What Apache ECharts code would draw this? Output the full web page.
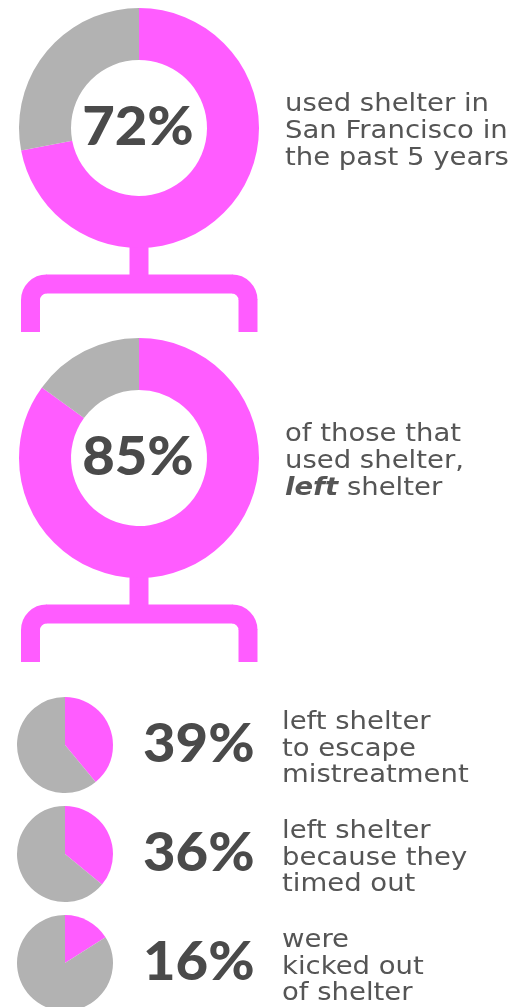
<!DOCTYPE html>
<html>
	<head>
		<meta charset="utf-8">
		<title>shelter</title>
		<style type="text/css">
			html, body {
				margin: 0;
				padding: 0;
				background: #fff;
			}
			#chart {
				width: 528px;
				height: 1007px;
			}
		</style>
	</head>
	<body>
		<div id="chart"></div>
		<script src="https://cdn.jsdelivr.net/npm/echarts@6/dist/echarts.min.js"></script>
		<script type="text/javascript">
			// 大圆环数据
			var donutValues = [72, 85];
			var donutCaptions = [
				['used shelter in', 'San Francisco in', 'the past 5 years'],
				['of those that', 'used shelter,', '{bi|left} shelter']
			];
			// 小饼图数据
			var pieValues = [39, 36, 16];
			var pieCaptions = [
				['left shelter', 'to escape', 'mistreatment'],
				['left shelter', 'because they', 'timed out'],
				['were', 'kicked out', 'of shelter']
			];

			var pink = '#ff5cff';
			var grey = '#b2b2b2';
			var dark = '#4a4a4a';
			var bodyFont = 'DejaVu Sans';
			var bodySize = 25;

			var donutX = 139;
			var donutY = [128, 458];
			var pieX = 65;
			var pieY = [745, 854, 963];

			var series = [];
			var graphic = [];

			var rich = {
				bi: {
					fontStyle: 'italic',
					fontWeight: 'bold',
					fontSize: bodySize,
					fontFamily: bodyFont,
					fill: '#555'
				}
			};

			// 百分比大字
			function bigText(x, y, v, align) {
				return {
					type: 'text',
					x: x,
					y: y,
					scaleX: 1.06,
					style: {
						text: v + '%',
						fontFamily: 'Lato',
						fontWeight: 900,
						fontSize: 53,
						fill: dark,
						align: align,
						verticalAlign: 'middle'
					}
				};
			}
			// 说明文字
			function captionText(x, y, lines, lh) {
				return {
					type: 'text',
					x: x,
					y: y,
					scaleX: 1.1,
					style: {
						text: lines.join('\n'),
						fontFamily: bodyFont,
						fontSize: bodySize,
						lineHeight: lh,
						fill: '#555',
						verticalAlign: 'middle',
						rich: rich
					}
				};
			}

			// 连接线
			var lineStyle = {
				fill: null,
				stroke: pink,
				lineWidth: 19
			};
			function addBracket(cy) {
				var top = cy + 117, mid = cy + 156, end = cy + 204;
				var r = 16, lx = 30.5, rx = 248;
				graphic.push({type: 'line', shape: {x1: donutX, y1: top, x2: donutX, y2: mid}, style: lineStyle});
				graphic.push({type: 'line', shape: {x1: lx + r - 0.5, y1: mid, x2: rx - r + 0.5, y2: mid}, style: lineStyle});
				graphic.push({type: 'line', shape: {x1: lx, y1: mid + r - 0.5, x2: lx, y2: end}, style: lineStyle});
				graphic.push({type: 'line', shape: {x1: rx, y1: mid + r - 0.5, x2: rx, y2: end}, style: lineStyle});
				graphic.push({type: 'arc', shape: {cx: lx + r, cy: mid + r, r: r, startAngle: Math.PI, endAngle: Math.PI * 1.5}, style: lineStyle});
				graphic.push({type: 'arc', shape: {cx: rx - r, cy: mid + r, r: r, startAngle: Math.PI * 1.5, endAngle: Math.PI * 2}, style: lineStyle});
			}

			donutValues.forEach(function(v, i) {
				var cy = donutY[i];
				series.push({
					type: 'pie',
					center: [donutX, cy],
					radius: [68, 120],
					startAngle: 90,
					silent: true,
					label: {show: false},
					labelLine: {show: false},
					data: [
						{value: v, itemStyle: {color: pink}},
						{value: 100 - v, itemStyle: {color: grey}}
					]
				});
				graphic.push(bigText(donutX - 1, cy, v, 'center'));
				graphic.push(captionText(285, cy + 3, donutCaptions[i], 27));
				addBracket(cy);
			});

			pieValues.forEach(function(v, i) {
				var cy = pieY[i];
				series.push({
					type: 'pie',
					center: [pieX, cy],
					radius: [0, 48],
					startAngle: 90,
					silent: true,
					label: {show: false},
					labelLine: {show: false},
					data: [
						{value: v, itemStyle: {color: pink}},
						{value: 100 - v, itemStyle: {color: grey}}
					]
				});
				graphic.push(bigText(143, cy, v, 'left'));
				graphic.push(captionText(282, cy + 4, pieCaptions[i], 26.5));
			});

			var chart = echarts.init(document.getElementById('chart'));
			chart.setOption({
				animation: false,
				backgroundColor: '#fff',
				series: series,
				graphic: graphic
			});
		</script>
	</body>
</html>
